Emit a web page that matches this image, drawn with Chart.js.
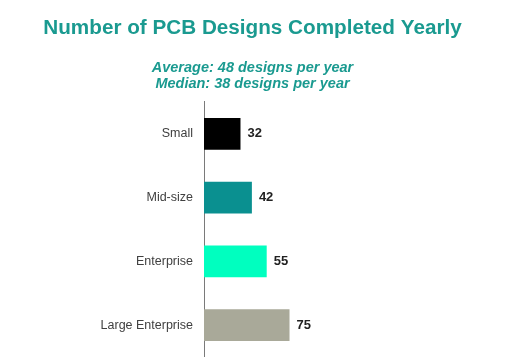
<!DOCTYPE html>
<html>
<head>
<meta charset="utf-8">
<script src="https://cdn.jsdelivr.net/npm/chart.js@4"></script>
<style>
html,body{margin:0;padding:0;background:#fff;}
#wrap{width:505px;height:357px;}
</style>
</head>
<body>
<div id="wrap"><canvas id="c" width="505" height="357"></canvas></div>
<script>
const categories = ["Small", "Mid-size", "Enterprise", "Large Enterprise"];
const values = [32, 42, 55, 75];
const barColors = ["#000000", "#0a9090", "#00ffbf", "#a9a999"];
const titleText = "Number of PCB Designs Completed Yearly";
const subtitleLines = ["Average: 48 designs per year", "Median: 38 designs per year"];
const axisMax = 264;

const valueLabels = {
  id: 'valueLabels',
  afterDatasetsDraw(chart) {
    const ctx = chart.ctx;
    const meta = chart.getDatasetMeta(0);
    ctx.save();
    ctx.font = 'bold 13px "Liberation Sans", Arial, sans-serif';
    ctx.fillStyle = '#222';
    ctx.textAlign = 'left';
    ctx.textBaseline = 'middle';
    meta.data.forEach((bar, i) => {
      ctx.fillText(String(values[i]), bar.x + 7, bar.y);
    });
    ctx.restore();
  }
};

new Chart(document.getElementById('c'), {
  type: 'bar',
  data: {
    labels: categories,
    datasets: [{
      data: values,
      backgroundColor: barColors,
      borderWidth: 0,
      barPercentage: 0.5,
      categoryPercentage: 1.0
    }]
  },
  options: {
    indexAxis: 'y',
    responsive: false,
    animation: false,
    layout: { padding: 0 },
    plugins: {
      legend: { display: false },
      tooltip: { enabled: false },
      title: {
        display: true,
        text: titleText,
        color: '#1a9a90',
        font: { family: '"Liberation Sans", Arial, sans-serif', size: 20.7, weight: 'bold', lineHeight: 1.2 },
        padding: { top: 15.6, bottom: 19.6 }
      },
      subtitle: {
        display: true,
        text: subtitleLines,
        color: '#1a9a90',
        font: { family: '"Liberation Sans", Arial, sans-serif', size: 14.5, weight: 'bold', style: 'italic', lineHeight: 1.1 },
        padding: { top: 0, bottom: 10 }
      }
    },
    scales: {
      x: {
        display: false,
        min: 0,
        max: axisMax
      },
      y: {
        afterFit(scale) {
          scale.width = 204;
          scale.paddingTop = 0;
          scale.paddingBottom = 0;
        },
        grid: { display: false, drawTicks: false },
        border: { display: true, color: '#7a7a7a', width: 1 },
        ticks: {
          color: '#404040',
          padding: 11,
          font: { family: '"Liberation Sans", Arial, sans-serif', size: 12.5 }
        }
      }
    }
  },
  plugins: [valueLabels]
});
</script>
</body>
</html>
